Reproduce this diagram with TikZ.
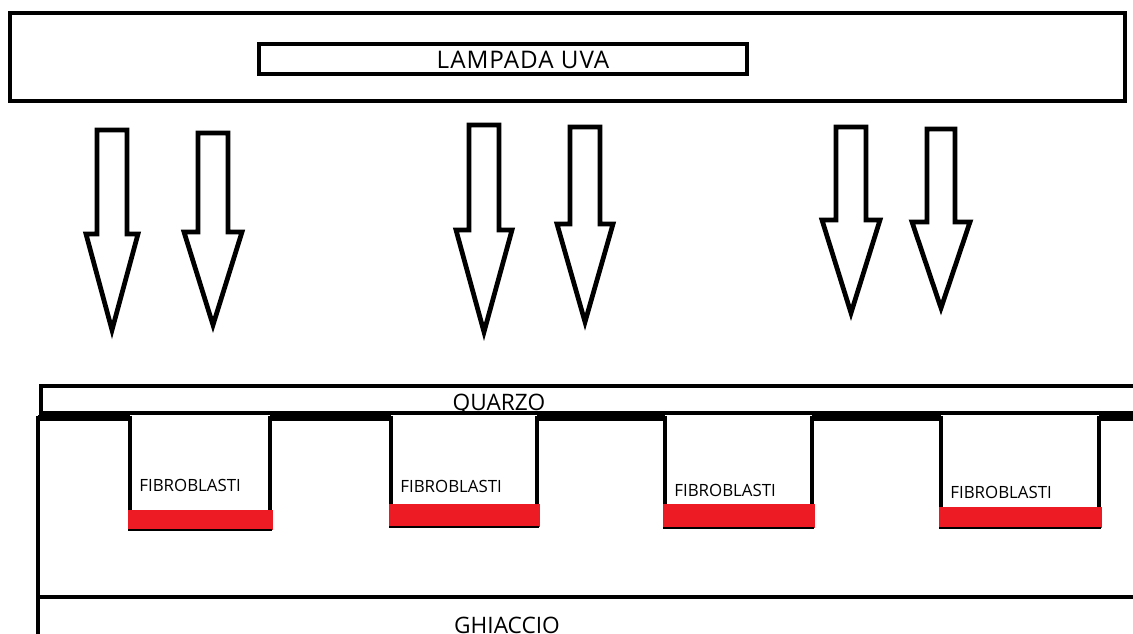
\documentclass[tikz,border=0pt]{standalone}
\usepackage{fontspec}
\setmainfont{Open Sans}
\newfontfamily\lampfont[LetterSpace=4]{Open Sans}
\usetikzlibrary{positioning}

\definecolor{paintred}{HTML}{ED1C24}

\tikzset{
  lampframe/.style={draw, line width=2.8pt},
  uvbeam/.style={draw, line width=2.7pt, line join=miter},
  wellwall/.style={draw, line width=2.4pt},
  redband/.style={fill=paintred},
  celltag/.style={inner sep=0pt, font=\fontsize{9.6}{11}\selectfont},
  bigtag/.style={inner sep=0pt, font=\fontsize{12.9}{14}\selectfont}
}

\begin{document}
\begin{tikzpicture}[x=0.02cm, y=-0.02cm]
\useasboundingbox (0,0) rectangle (1133,634);

% Lamp
\draw[lampframe] (10,13) rectangle (1125,101);
\draw[line width=2.4pt] (259,44) rectangle (747,74);
\node[bigtag, font=\lampfont\fontsize{13.8}{15}\selectfont] (lamp) at (523,60) {LAMPADA UVA};

% UV rays: centre/top/head/tip/shaft/head width
\foreach \cx/\ty/\hy/\tp/\sw/\hw in {112/130/234/330/15/26, 213/133/232/325/15/29,
    484/125/230/332/15/28, 585/127/224/322/15/28,
    851/127/220/313/15/29, 941/129/222/308/14/29}
  \draw[uvbeam] (\cx-\sw,\ty) -- (\cx+\sw,\ty) -- (\cx+\sw,\hy) -- (\cx+\hw,\hy)
    -- (\cx,\tp) -- (\cx-\hw,\hy) -- (\cx-\sw,\hy) -- cycle;

% Quartz
\draw[line width=2.4pt] (1140,386) -- (41,386) -- (41,413) -- (1140,413);
\node[bigtag, anchor=base] (quartz) at (499,411) {QUARZO};

% Plate
\draw[line width=3.4pt] (38,418) -- (130,418);
\draw[line width=3.4pt] (270,418) -- (391,418);
\draw[line width=3.4pt] (537,418) -- (665,418);
\draw[line width=3.4pt] (812,418) -- (941,418);
\draw[line width=3.4pt] (1099,418) -- (1140,418);
\draw[wellwall] (38,416) -- (38,640);
\draw[wellwall] (36,597) -- (1140,597);
\node[bigtag, anchor=base] (ice) at (507,634) {GHIACCIO};

% Wells: left/right/red top/red bottom/text baseline
\foreach \l/\r/\rt/\rb/\tb/\n in {130/270/510/530/492/1, 391/537/504/527/493/2,
    665/812/504/528/497/3, 941/1099/507/528/499/4} {
  \draw[wellwall] (\l,416) -- (\l,\rb);
  \draw[wellwall] (\r,416) -- (\r,\rt);
  \fill[redband] (\l-2,\rt) rectangle (\r+3,\rb);
  \draw[line width=0.8pt] (\l-2,\rb) -- (\r+2,\rb);
  \node[celltag, anchor=base west] (fib\n) at (\l+9,\tb) {FIBROBLASTI};
}

\end{tikzpicture}
\end{document}
